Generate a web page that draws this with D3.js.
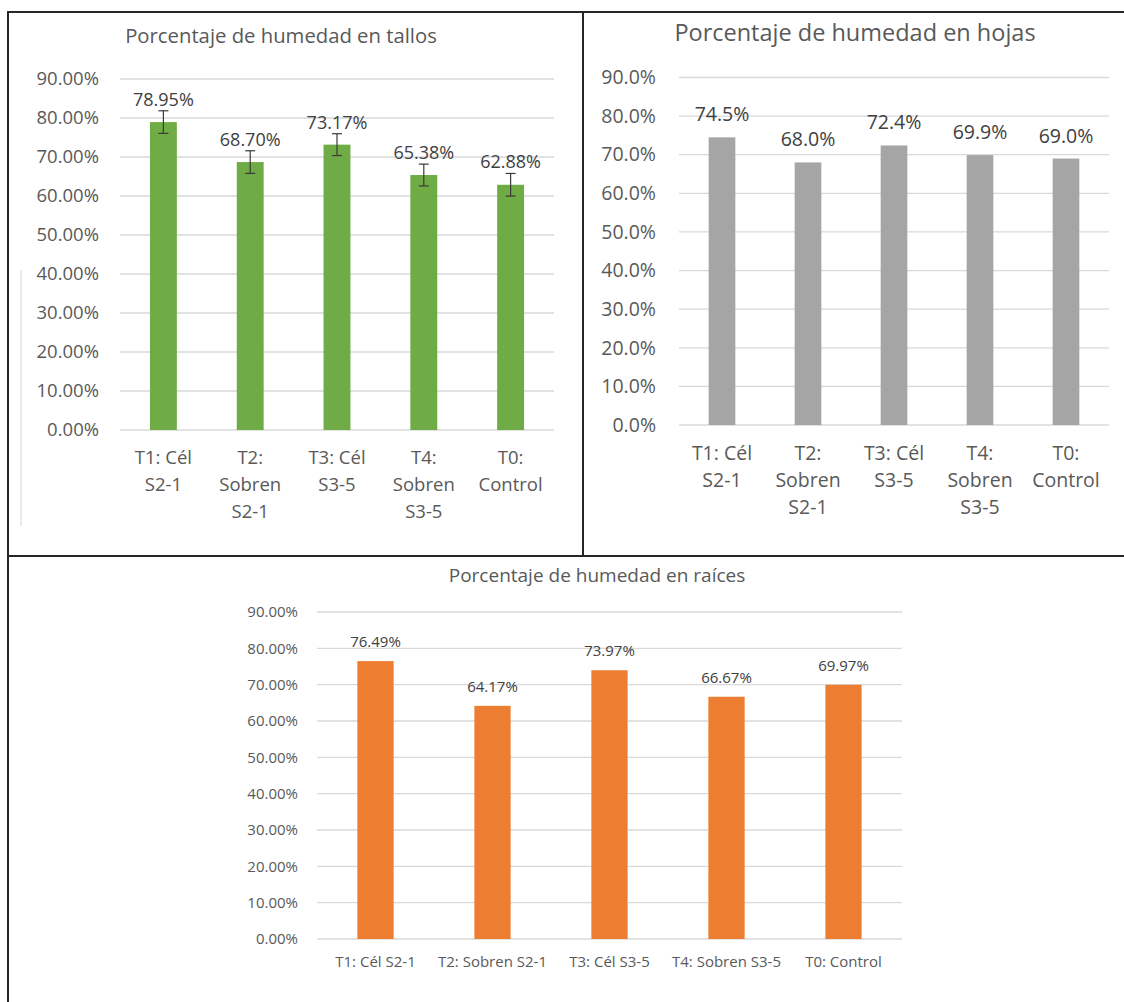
<!DOCTYPE html>
<html>
<head>
<meta charset="utf-8">
<script src="https://cdn.jsdelivr.net/npm/d3@7"></script>
<style>
  html, body { margin: 0; padding: 0; background: #ffffff; }
  svg { display: block; font-family: "Open Sans", "Noto Sans", sans-serif; }
</style>
</head>
<body>
<svg id="chart" width="1124" height="1002"></svg>
<script>
// ---------- data ----------
const categories = ["T1: Cél S2-1", "T2: Sobren S2-1", "T3: Cél S3-5", "T4: Sobren S3-5", "T0: Control"];
const wrappedTickLabels = [["T1: Cél", "S2-1"], ["T2:", "Sobren", "S2-1"], ["T3: Cél", "S3-5"], ["T4:", "Sobren", "S3-5"], ["T0:", "Control"]];
const tallosValues = [0.7895, 0.6870, 0.7317, 0.6538, 0.6288];
const tallosErrors = [0.029, 0.029, 0.028, 0.028, 0.029];
const hojasValues = [0.745, 0.680, 0.724, 0.699, 0.690];
const raicesValues = [0.7649, 0.6417, 0.7397, 0.6667, 0.6997];
const yTickValues = [0, 0.1, 0.2, 0.3, 0.4, 0.5, 0.6, 0.7, 0.8, 0.9];
const titles = ["Porcentaje de humedad en tallos", "Porcentaje de humedad en hojas", "Porcentaje de humedad en raíces"];

// ---------- drawing ----------
const svg = d3.select("#chart");
svg.append("rect").attr("width", 1124).attr("height", 1002).attr("fill", "#ffffff");

function drawChart(cfg) {
  const g = svg.append("g");
  const x = d3.scaleBand().domain(categories).range([cfg.left, cfg.right])
    .paddingInner(cfg.pad).paddingOuter(cfg.pad / 2);
  const y = d3.scaleLinear().domain([0, 0.9]).range([cfg.bottom, cfg.top]);

  // gridlines
  g.append("g").selectAll("line").data(yTickValues).join("line")
    .attr("x1", cfg.left).attr("x2", cfg.right)
    .attr("y1", d => y(d)).attr("y2", d => y(d))
    .attr("stroke", "#d9d9d9").attr("stroke-width", 1.3);

  // y axis labels
  const ya = d3.axisLeft(y).tickValues(yTickValues).tickFormat(d3.format(cfg.fmt))
    .tickSize(0).tickPadding(cfg.tickPad);
  const yg = g.append("g").attr("transform", `translate(${cfg.left},0)`).call(ya);
  yg.select(".domain").remove();
  yg.selectAll("text").attr("fill", "#595959").style("font-size", cfg.tickFont + "px")
    .style("font-family", "'Open Sans', sans-serif");

  // bars
  g.append("g").selectAll("rect").data(cfg.values).join("rect")
    .attr("x", (d, i) => x(categories[i]))
    .attr("width", x.bandwidth())
    .attr("y", d => y(d))
    .attr("height", d => y(0) - y(d))
    .attr("fill", cfg.color);

  // error bars
  if (cfg.errors) {
    const eg = g.append("g").attr("stroke", "#3a3a3a").attr("stroke-width", 1.2);
    cfg.values.forEach((v, i) => {
      const cx = x(categories[i]) + x.bandwidth() / 2;
      const e = cfg.errors[i];
      eg.append("line").attr("x1", cx).attr("x2", cx).attr("y1", y(v + e)).attr("y2", y(v - e));
      eg.append("line").attr("x1", cx - 5).attr("x2", cx + 5).attr("y1", y(v + e)).attr("y2", y(v + e));
      eg.append("line").attr("x1", cx - 5).attr("x2", cx + 5).attr("y1", y(v - e)).attr("y2", y(v - e));
    });
  }

  // data labels
  g.append("g").selectAll("text").data(cfg.values).join("text")
    .attr("x", (d, i) => x(categories[i]) + x.bandwidth() / 2)
    .attr("y", (d, i) => (cfg.errors ? y(d + cfg.errors[i]) : y(d)) - cfg.labelGap)
    .attr("text-anchor", "middle")
    .attr("fill", "#404040")
    .style("font-size", cfg.labelFont + "px")
    .text(d => d3.format(cfg.fmt)(d));

  // x labels
  const xl = g.append("g");
  categories.forEach((c, i) => {
    const lines = cfg.wrap ? wrappedTickLabels[i] : [c];
    const t = xl.append("text")
      .attr("x", x(c) + x.bandwidth() / 2)
      .attr("y", cfg.xLabelY)
      .attr("text-anchor", "middle")
      .attr("fill", "#595959")
      .style("font-size", cfg.xFont + "px");
    lines.forEach((ln, j) => {
      t.append("tspan").attr("x", x(c) + x.bandwidth() / 2)
        .attr("dy", j === 0 ? 0 : cfg.lineH).text(ln);
    });
  });

  // title
  g.append("text").attr("x", cfg.titleX).attr("y", cfg.titleY)
    .attr("text-anchor", "middle").attr("fill", "#595959")
    .style("font-size", cfg.titleFont + "px").text(cfg.title);
}

drawChart({
  left: 120, right: 554, top: 79, bottom: 430, pad: 0.69, fmt: ".2%",
  values: tallosValues, errors: tallosErrors, color: "#6fac46",
  tickPad: 21, tickFont: 18.5, labelFont: 18, labelGap: 5,
  wrap: true, xLabelY: 464, lineH: 27, xFont: 18.5,
  title: titles[0], titleX: 281, titleY: 43, titleFont: 20.3
});

drawChart({
  left: 679, right: 1109, top: 77.5, bottom: 425, pad: 0.69, fmt: ".1%",
  values: hojasValues, errors: null, color: "#a5a5a5",
  tickPad: 23, tickFont: 19.5, labelFont: 19.5, labelGap: 16,
  wrap: true, xLabelY: 460, lineH: 27, xFont: 19.5,
  title: titles[1], titleX: 855, titleY: 41, titleFont: 23.5
});

drawChart({
  left: 317, right: 902, top: 612, bottom: 939, pad: 0.69, fmt: ".2%",
  values: raicesValues, errors: null, color: "#ed7d31",
  tickPad: 19, tickFont: 15, labelFont: 15, labelGap: 14,
  wrap: false, xLabelY: 967, lineH: 0, xFont: 15,
  title: titles[2], titleX: 597, titleY: 582, titleFont: 19
});

// panel borders
const bg = svg.append("g").attr("stroke", "#262626").attr("stroke-width", 2).attr("fill", "none");
bg.append("line").attr("x1", 7).attr("x2", 1124).attr("y1", 12).attr("y2", 12);
bg.append("line").attr("x1", 8).attr("x2", 8).attr("y1", 11).attr("y2", 1002);
bg.append("line").attr("x1", 583).attr("x2", 583).attr("y1", 12).attr("y2", 556);
bg.append("line").attr("x1", 8).attr("x2", 1124).attr("y1", 556).attr("y2", 556);
// faint chart-area edge in the first panel
svg.append("line").attr("x1", 21).attr("x2", 21).attr("y1", 270).attr("y2", 526)
  .attr("stroke", "#dfe6ef").attr("stroke-width", 1.5);
</script>
</body>
</html>
